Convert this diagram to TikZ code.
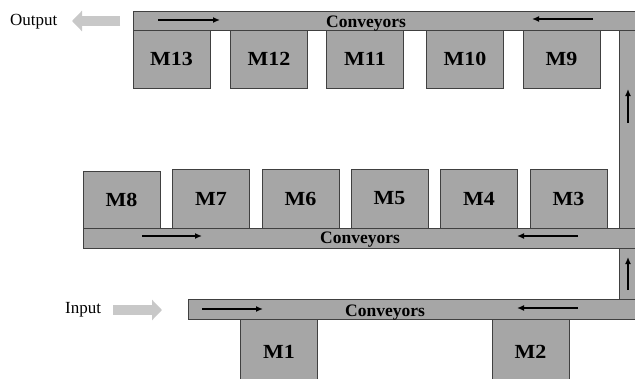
\documentclass[tikz,border=0pt]{standalone}
\usepackage{fontspec}
\setmainfont{Liberation Serif}
\newfontfamily\wideserif[FakeStretch=1.1]{Liberation Serif}
\usetikzlibrary{arrows.meta}
\definecolor{convgray}{HTML}{A6A6A6}
\definecolor{edgegray}{HTML}{404040}
\definecolor{flowgray}{HTML}{C8C8C8}
\begin{document}
\begin{tikzpicture}[x=1pt,y=-1pt,
  machine/.style={draw=edgegray, fill=convgray, line width=0.9pt, inner sep=0pt,
    minimum width=77pt, minimum height=58pt, font=\wideserif\fontsize{20}{20}\selectfont\bfseries},
  conveyor/.style={draw=edgegray, fill=convgray, line width=0.9pt, inner sep=0pt},
  convlabel/.style={inner sep=0pt, anchor=base, font=\fontsize{17.5}{17.5}\selectfont\bfseries},
  sidelabel/.style={inner sep=0pt, anchor=base west, font=\fontsize{17}{17}\selectfont},
  flow/.style={line width=1.6pt, -{Latex[length=7pt,width=6pt]}},
  bigflow/.style={draw=flowgray, line width=10pt, -{Triangle[length=10pt,width=20pt]}, color=flowgray}
]
\path[use as bounding box] (0,0) rectangle (635,378);
\clip (0,0) rectangle (635,378);

% vertical conveyors
\node[conveyor, minimum width=26pt, minimum height=198pt] (vup) at (632,129) {};
\node[conveyor, minimum width=26pt, minimum height=51pt] (vlow) at (632,273.5) {};

% top machines
\node[machine] (m13) at (171.5,59) {M13};
\node[machine] (m12) at (269,59) {M12};
\node[machine] (m11) at (365,59) {M11};
\node[machine] (m10) at (465,59) {M10};
\node[machine] (m9) at (561.5,59) {M9};

% middle machines
\node[machine, minimum height=57pt] (m8) at (121.5,199.5) {M8};
\node[machine, minimum height=59pt] (m7) at (211,198.5) {M7};
\node[machine, minimum height=59pt] (m6) at (300.5,198.5) {M6};
\node[machine, minimum height=59pt] (m5) at (389.5,198.5) {M5};
\node[machine, minimum height=59pt] (m4) at (479,198.5) {M4};
\node[machine, minimum height=59pt] (m3) at (568.5,198.5) {M3};

% bottom machines
\node[machine, minimum height=66pt] (m1) at (279,352) {M1};
\node[machine, minimum height=66pt] (m2) at (530.5,352) {M2};

% horizontal conveyors
\node[conveyor, minimum width=512pt, minimum height=19pt] (ctop) at (389,20.5) {};
\node[conveyor, minimum width=562pt, minimum height=20pt] (cmid) at (364,238) {};
\node[conveyor, minimum width=457pt, minimum height=20pt] (cbot) at (416.5,309) {};

\node[convlabel] (ltop) at (366,27) {Conveyors};
\node[convlabel] (lmid) at (360,243) {Conveyors};
\node[convlabel] (lbot) at (385,316) {Conveyors};

% direction arrows
\coordinate (a1s) at (158,20); \coordinate (a1e) at (220,20);
\coordinate (a2s) at (593,19); \coordinate (a2e) at (532,19);
\coordinate (a3s) at (142,236); \coordinate (a3e) at (202,236);
\coordinate (a4s) at (578,236); \coordinate (a4e) at (517,236);
\coordinate (a5s) at (202,309); \coordinate (a5e) at (263,309);
\coordinate (a6s) at (578,308); \coordinate (a6e) at (517,308);
\coordinate (a7s) at (628,123); \coordinate (a7e) at (628,89);
\coordinate (a8s) at (628,290); \coordinate (a8e) at (628,257);
\foreach \i in {1,...,8} {\draw[flow] (a\i s) -- (a\i e);}

% output / input
\node[sidelabel] (out) at (10,25) {Output};
\node[sidelabel] (in) at (65,313) {Input};
\coordinate (os) at (120,21); \coordinate (oe) at (72,21);
\coordinate (is) at (113,310); \coordinate (ie) at (162,310);
\draw[bigflow] (os) -- (oe);
\draw[bigflow] (is) -- (ie);
\end{tikzpicture}
\end{document}
